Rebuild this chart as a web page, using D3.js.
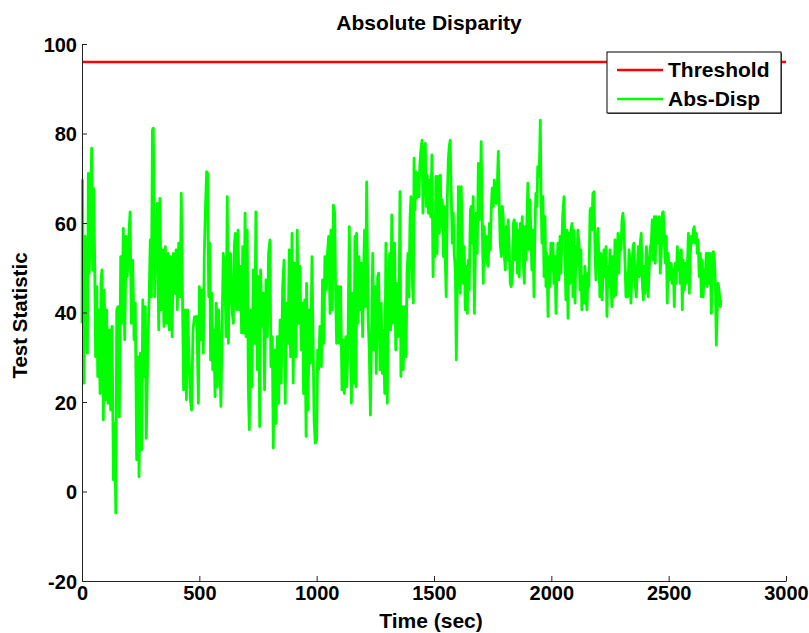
<!DOCTYPE html>
<html>
<head>
<meta charset="utf-8">
<script src="https://cdn.jsdelivr.net/npm/d3@7"></script>
<style>
  body { margin: 0; background: #fff; }
  svg text { font-family: "Liberation Sans", Arial, sans-serif; font-weight: bold; }
</style>
</head>
<body>
<svg id="chart" width="809" height="633"></svg>
<script>
const TITLE = "Absolute Disparity";
const X_LABEL = "Time (sec)";
const Y_LABEL = "Test Statistic";
const X_TICKS = [0, 500, 1000, 1500, 2000, 2500, 3000];
const Y_TICKS = [-20, 0, 20, 40, 60, 80, 100];
const THRESHOLD = 96;
const LEGEND = ["Threshold", "Abs-Disp"];

// [time, value]
const absDisp = [
  [0,37.6],[2,69.6],[6,43.5],[9,24.2],[13,57],[17,51.7],[23,30.9],[27,71.1],[31,48.8],[37,64.4],[41,76.7],[45,49.5],[50,67.7],[54,51.7],[58,30.1],
  [63,45.8],[67,25.7],[72,40.6],[77,21.9],[81,46.9],[85,49.5],[91,16],[95,45],[101,20.5],[105,40.6],[111,19.7],[117,36.1],[122,18.2],[128,36.9],[134,2.6],
  [139,15.2],[144,-4.8],[148,40.6],[153,41.3],[159,16.7],[165,52.5],[170,37.6],[176,58.8],[182,33.9],[188,57],[193,48],[200,57.7],[205,62.5],[210,37.6],[216,51.7],
  [222,33.9],[227,42.1],[233,7.1],[239,30.1],[243,3.3],[249,30.9],[254,9.3],[259,42.8],[264,25.7],[270,41.3],[274,11.9],[280,30.9],[286,43.2],[291,56.2],[296,43.5],
  [300,80.8],[304,81.2],[310,43.5],[315,56.2],[321,64.4],[327,36.1],[332,65.5],[338,40.6],[344,54],[349,36.9],[355,54.7],[361,37.6],[367,53.2],[372,36.1],[378,52.5],
  [384,34.6],[389,53.2],[395,44.3],[401,54],[406,40.6],[412,55.5],[418,43.5],[423,66.6],[429,39.8],[433,22.7],[439,40.6],[445,20.5],[450,40.6],[456,30.9],[462,20.5],
  [467,18.2],[473,36.1],[479,39],
  [489,39.1],[496,19.7],[500,45.8],[506,33.9],[511,45],[517,30.9],[521,52.5],[526,63.3],[531,71.5],[535,71.1],[540,43.5],[544,55.5],[548,29.4],[553,44.3],[557,27.2],
  [562,36.1],[567,21.2],[572,42.1],[577,23.4],[582,40.6],[588,27.9],[592,19],[597,36.9],[602,53.2],[608,49.5],[614,34.6],[619,65.9],[624,33.1],[628,49.5],[633,53.2],
  [639,40.6],[645,37.6],[649,54.7],[653,57.7],[659,40.6],[665,58.4],[670,40.6],[676,50.3],[680,35.4],[685,54.7],[690,35.4],[695,62.2],[699,34.6],[704,58.4],[709,22.7],
  [713,13.8],[719,40.6],[724,23.4],[730,49.5],[736,33.1],[741,62.5],[747,27.2],[753,48],[757,14.5],[761,49.5],[767,36.9],[773,44.3],[778,22.7],[784,47.3],[790,34.6],
  [795,53.2],[801,56.2],[805,27.9],[811,34.6],[815,9.7],[821,31.6],[827,15.2],[832,34.6],[838,19.7],[844,38.3],[849,24.2],[855,45.8],[861,51.7],[866,19.7],[872,42.1],
  [878,33.1],[883,54],[889,30.1],[895,57.7],[900,24.2],[906,51],[912,30.1],[917,58.4],[923,37.6],[929,50.3],[934,31.6],[940,42.1],[944,21.9],[949,42.8],
  [955,12.3],[957,46.5],[963,18.2],[969,40.6],[974,28.7],[980,52.5],[986,28.7],[989,16],[994,10.8],[1000,11.5],[1004,31.6],[1008,27.2],[1014,36.9],[1020,27.9],[1025,47.3],
  [1031,33.1],[1035,52.5],[1041,45],[1045,52.5],[1051,57],[1057,39.8],[1061,58.4],[1067,40.6],[1071,64],[1077,62.2],[1081,43.5],[1085,33.1],[1091,45.8],[1097,33.1],[1102,45.8],
  [1108,22.7],[1114,33.9],[1118,21.9],[1124,34.6],[1128,23.4],[1133,31.6],[1139,59.2],[1143,43.5],[1148,19.7],[1153,44.3],[1159,24.2],[1163,57],[1168,23.4],[1170,57.7],[1176,37.6],
  [1180,52.5],[1185,40.6],[1190,51],[1196,34.6],[1200,49.5],[1204,58.4],[1209,41.3],[1213,69.2],[1219,39.1],[1224,31.6],[1229,17.1],[1233,33.1],[1239,53.2],[1244,31.6],[1250,45.8],
  [1254,26.4],[1260,48],[1264,48.8],[1270,27.2],[1275,42.1],[1280,26.4],[1284,36.1],[1290,21.9],[1295,55.5],[1301,19.7],[1305,46.5],[1311,53.2],[1315,36.1],[1320,61.8],[1324,37.6],
  [1328,46.5],[1332,55.5],[1337,31.6],[1341,46.5],[1346,34.6],[1351,41.3],[1355,67],[1359,25.7],[1365,41.3],[1369,27.2],[1375,41.3],[1381,30.1],[1385,48.8],[1389,53.2],[1393,43.5],
  [1398,61.4],[1402,65.9],[1408,46.5],[1412,42.1],[1415,74.5],[1419,62.9],[1422,71.5],
  [1426,65.5],[1432,71.1],[1436,65.9],[1440,73.3],[1444,76.3],[1449,78.5],[1453,62.2],[1457,75.6],[1463,77.8],[1467,63.7],[1471,70.7],[1476,62.2],[1480,69.6],[1486,61.4],[1491,75.2],
  [1496,48],[1500,61.4],[1504,52.5],[1508,70.4],[1513,53.2],[1517,70.4],[1523,57.7],[1527,70.7],[1531,59.2],[1535,65.1],[1540,52.5],[1544,63.7],[1548,51.7],[1552,43.5],[1557,65.9],
  [1561,74.1],[1565,77.1],[1569,78.5],[1574,65.1],[1578,55.5],[1582,62.2],[1586,53.2],[1591,49.5],[1595,29.4],[1599,45],[1604,68.1],[1608,51],[1612,44.3],[1616,68.1],[1621,55.5],
  [1625,46.5],[1629,54.7],[1633,40.6],[1638,50.3],[1642,39.8],[1646,51.7],[1650,45],[1655,62.9],[1659,63.7],[1663,55.5],[1667,65.9],[1672,39.8],[1676,52.5],[1680,62.2],[1684,53.2],
  [1689,73.3],[1693,60.7],[1697,62.9],[1701,78.2],[1706,58.4],[1710,46.5],[1714,59.2],[1719,51.7],[1723,57],[1727,51],[1731,50.3],[1736,59.9],[1740,54],[1744,62.9],[1748,67.8],
  [1753,63.7],[1757,69.6],[1761,67.4],[1765,64.4],[1770,68.9],[1774,76],[1778,64.4],[1782,55.5],[1787,52.5],[1791,63.7],[1795,61.4],[1799,53.2],[1804,49.5],[1808,59.2],[1812,51.7],
  [1816,60.7],[1821,54],[1825,46.5],[1829,45.8],[1834,48],[1838,59.9],[1842,60.7],[1846,51.7],[1851,59.9],[1855,48.8],[1859,58.4],[1863,48],[1868,59.9],[1872,54],[1876,61.4],
  [1880,51],[1885,46.5],[1888,59.2],
  [1892,51.7],[1896,60.7],[1900,68.9],[1905,54],[1909,65.1],[1913,57.7],[1917,49.5],[1922,58.4],[1926,43.5],[1930,57.7],[1934,66.6],[1939,63.7],[1942,72.6],[1946,70.4],[1950,74.8],
  [1953,83],[1956,66.6],[1960,55.5],[1964,65.9],[1969,48],[1973,61.4],[1977,45.8],[1981,53.2],[1986,39.1],[1990,52.5],[1994,45.8],[1998,55.5],[2003,49.5],[2007,55.5],[2011,46.5],
  [2015,52.5],[2020,39.8],[2024,49.5],[2028,55.5],[2032,47.3],[2037,57],[2041,48.8],[2045,56.2],[2049,62.2],[2054,65.9],[2058,54],[2062,42.8],[2067,58.4],[2071,38.7],[2075,57.7],
  [2079,46.5],[2084,58.4],[2088,59.9],[2092,43.5],[2096,58.4],[2101,42.1],[2105,54.7],[2109,50.3],[2113,58.4],[2118,55.5],[2122,45],[2126,54],[2130,40.6],[2135,48],[2139,42.1],
  [2143,50.3],[2147,43.5],[2152,40.6],[2156,48.8],[2160,45.8],[2165,62.9],[2169,63.3],[2173,58.4],[2177,66.6],[2182,67],[2186,54],[2190,47.3],[2194,55.5],[2199,58.8],[2203,51],
  [2207,43.5],[2211,53.2],[2216,42.8],[2220,47.3],[2224,54],[2228,48],[2233,54.7],[2237,39.1],[2241,50.3],[2245,45.8],[2250,54],[2254,46.5],[2258,41.3],[2262,52.5],[2267,43.5],
  [2271,56.2],[2275,43.9],[2280,51.7],[2284,57.7],[2288,48.8],[2292,57],[2297,54],[2301,60.7],[2305,62.2],[2309,59.2],[2314,51],[2318,43.5],[2322,48.8],[2326,43.5],[2331,54],
  [2335,51.7],[2339,42.1],[2343,48],[2348,54.7],[2352,55.5],[2356,47.3],
  [2362,43.5],[2366,49.5],[2371,54.7],[2375,48],[2379,55.5],[2383,57.7],[2388,46.5],[2392,42.8],[2396,50.3],[2400,44.3],[2405,54.7],[2409,51.7],[2413,43.5],[2417,49.5],[2422,54.7],
  [2426,55.5],[2430,60.7],[2434,51.7],[2439,61.4],[2443,51],[2447,61.4],[2451,55.5],[2456,59.9],[2460,61.4],[2464,48.8],[2469,54],[2473,62.2],[2477,62.5],[2481,57.7],[2486,51],
  [2490,57],[2494,42.1],[2498,53.2],[2503,47.3],[2507,49.5],[2511,51],[2515,46.5],[2520,49.5],[2524,41.3],[2528,51],[2532,46.5],[2537,54.7],[2541,49.5],[2545,53.2],[2549,46.5],
  [2554,54],[2558,40.6],[2562,51.7],[2567,45],[2571,51],[2575,46.5],[2579,48.8],[2584,57.7],[2588,44.3],[2592,52.5],[2596,57],[2601,55.5],[2605,58.4],[2609,59.2],[2613,55.5],
  [2618,57.7],[2622,53.2],[2626,56.2],[2630,48],[2635,53.2],[2639,43.5],[2643,51.7],[2647,43.5],[2652,49.5],[2656,46.5],[2660,53.2],[2664,45.8],[2669,53.2],[2673,46.5],[2677,53.2],
  [2682,39.8],[2686,50.3],[2690,53.6],[2694,53.2],[2699,46.5],[2703,32.7],[2707,40.6],[2711,46.5],[2716,44.3],[2720,41.3],[2723,42.8]
];

const svg = d3.select("#chart");
const margin = {left: 82, right: 23, top: 44, bottom: 52};
const width = +svg.attr("width") - margin.left - margin.right;
const height = +svg.attr("height") - margin.top - margin.bottom;

const x = d3.scaleLinear().domain([0, 3000]).range([0, width]);
const y = d3.scaleLinear().domain([-20, 100]).range([height, 0]);

const g = svg.append("g").attr("transform", `translate(${margin.left},${margin.top})`);

// threshold line
g.append("line")
  .attr("x1", x(0)).attr("x2", x(3000))
  .attr("y1", y(THRESHOLD)).attr("y2", y(THRESHOLD))
  .attr("stroke", "#ff0000")
  .attr("stroke-width", 2.5);

// test statistic
const line = d3.line().x(d => x(d[0])).y(d => y(d[1]));
g.append("path")
  .datum(absDisp)
  .attr("fill", "none")
  .attr("stroke", "#00ff00")
  .attr("stroke-width", 2.8)
  .attr("stroke-linejoin", "round")
  .attr("d", line);

// axes, ticks inside like matlab
const xAxis = g.append("g")
  .attr("transform", `translate(0,${height})`)
  .call(d3.axisBottom(x).tickValues(X_TICKS).tickFormat(d => String(d))
    .tickSizeInner(-5).tickSizeOuter(0).tickPadding(5));
const yAxis = g.append("g")
  .call(d3.axisLeft(y).tickValues(Y_TICKS).tickFormat(d => String(d))
    .tickSizeInner(-5).tickSizeOuter(0).tickPadding(5));

[xAxis, yAxis].forEach(a => {
  a.select(".domain").attr("stroke", "#222");
  a.selectAll(".tick line").attr("stroke", "#222");
  a.selectAll(".tick text")
    .attr("fill", "#000")
    .style("font-size", "20px")
    .style("font-family", "'Liberation Sans', Arial, sans-serif")
    .style("font-weight", "bold");
});
yAxis.selectAll(".tick text").attr("dy", "0.35em");

// title and labels
svg.append("text")
  .attr("x", 429).attr("y", 30)
  .attr("text-anchor", "middle")
  .style("font-size", "21px")
  .text(TITLE);

svg.append("text")
  .attr("x", 431).attr("y", 628)
  .attr("text-anchor", "middle")
  .style("font-size", "21px")
  .text(X_LABEL);

svg.append("text")
  .attr("transform", `translate(27,${margin.top + height / 2 + 3}) rotate(-90)`)
  .attr("text-anchor", "middle")
  .style("font-size", "20.5px")
  .text(Y_LABEL);

// legend
const legend = svg.append("g").attr("transform", "translate(607,52)");
legend.append("rect")
  .attr("x", 1).attr("y", 1).attr("width", 174).attr("height", 61)
  .attr("fill", "#555");
legend.append("rect")
  .attr("width", 174).attr("height", 61)
  .attr("fill", "#fff").attr("stroke", "#000").attr("stroke-width", 1);
const colors = ["#ff0000", "#00ff00"];
LEGEND.forEach((name, i) => {
  const yy = 18 + i * 29;
  legend.append("line")
    .attr("x1", 10).attr("x2", 56).attr("y1", yy).attr("y2", yy)
    .attr("stroke", colors[i]).attr("stroke-width", 2.5);
  legend.append("text")
    .attr("x", 61).attr("y", yy + 7)
    .style("font-size", "21px")
    .text(name);
});
</script>
</body>
</html>
